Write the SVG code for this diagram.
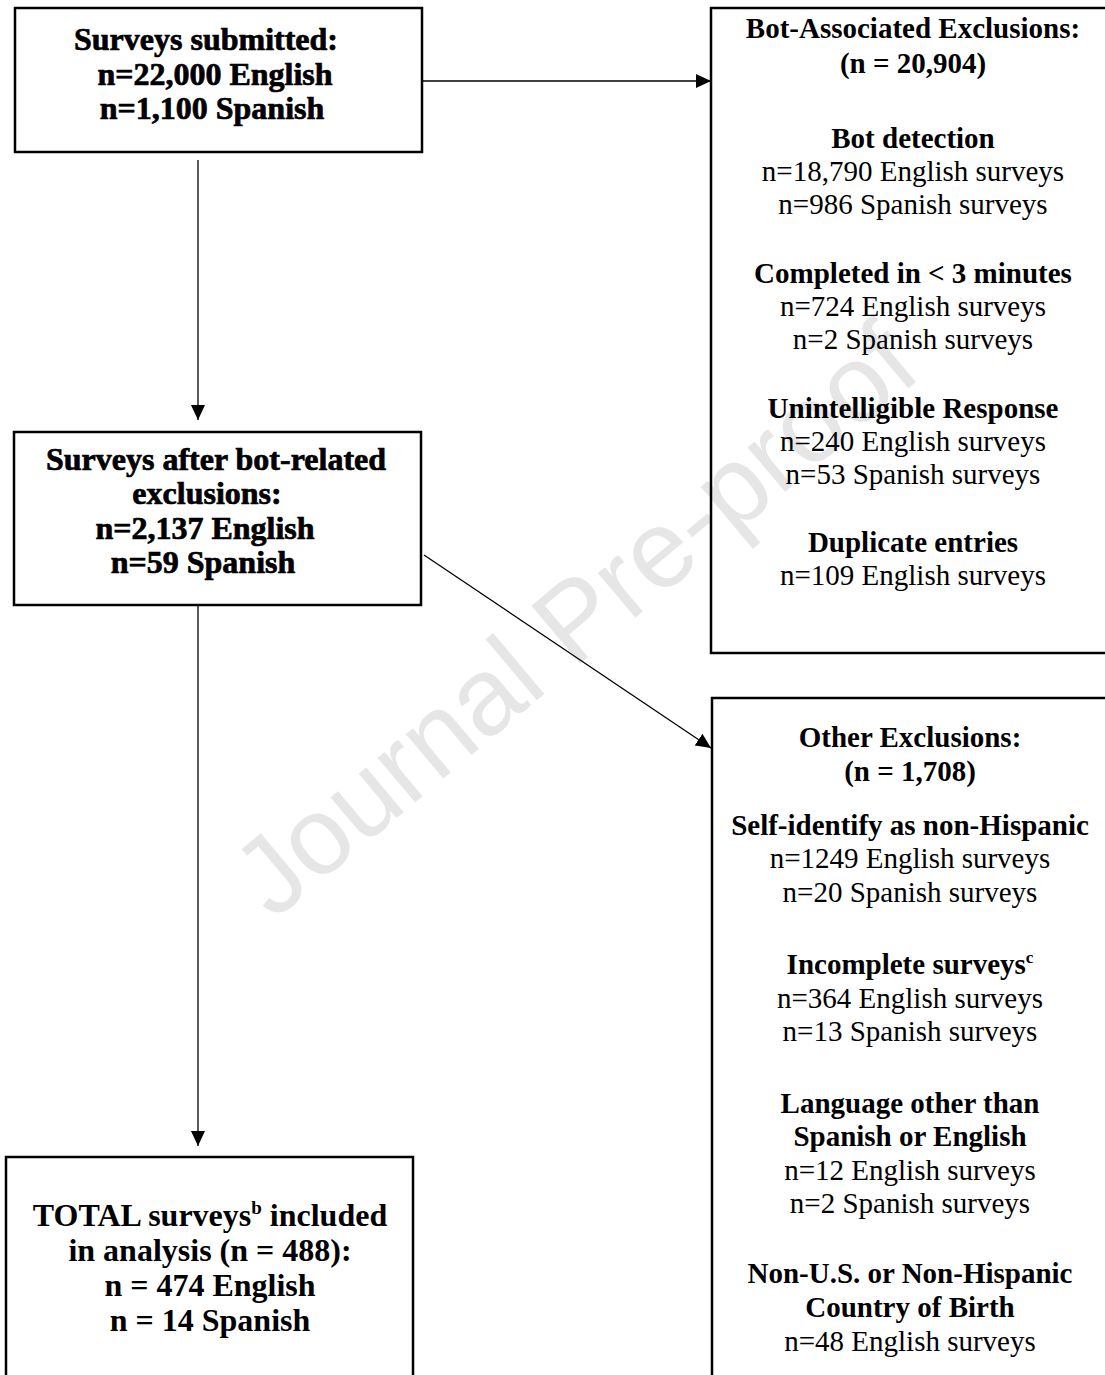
<svg xmlns="http://www.w3.org/2000/svg" width="1105" height="1375" viewBox="0 0 1105 1375">
<style>
.box{fill:none;stroke:#000;stroke-width:2.5}
.conn{stroke:#000;stroke-width:1.3;fill:none}
.t{font-family:"Liberation Serif","Times New Roman",serif;text-anchor:middle;fill:#000}
.big{font-size:32px;font-weight:bold}
.heavy{stroke:#000;stroke-width:0.7}
.h{font-size:29px;font-weight:bold}
.r{font-size:29px}
.wm{font-family:"Liberation Sans",Arial,sans-serif;font-size:110px;fill:#e6e6e6;text-anchor:middle}
</style>
<defs>
<marker id="ah" markerUnits="userSpaceOnUse" markerWidth="15" markerHeight="14" refX="15" refY="7" orient="auto">
<path d="M0,0 L15,7 L0,14 z" fill="#000"/>
</marker>
</defs>
<rect width="1105" height="1375" fill="#fff"/>
<text class="wm" x="599" y="648" transform="rotate(-40 599 648)">Journal Pre-proof</text>

<g id="connectors">
<line class="conn" x1="422" y1="81" x2="711" y2="81" marker-end="url(#ah)"/>
<line class="conn" x1="198" y1="160" x2="198" y2="420" marker-end="url(#ah)"/>
<line class="conn" x1="198" y1="605" x2="198" y2="1146" marker-end="url(#ah)"/>
<line class="conn" x1="424" y1="555" x2="711" y2="748" marker-end="url(#ah)"/>
</g>

<g id="node-submitted">
<rect class="box" x="15" y="8" width="407" height="144"/>
<text class="t big heavy" x="206" y="50">Surveys submitted:</text>
<text class="t big heavy" x="215" y="85">n=22,000 English</text>
<text class="t big heavy" x="212" y="119">n=1,100 Spanish</text>
</g>

<g id="node-bot-exclusions">
<rect class="box" x="711" y="8" width="420" height="645"/>
<text class="t h" x="913" y="38">Bot-Associated Exclusions:</text>
<text class="t h" x="913" y="73">(n = 20,904)</text>
<text class="t h" x="913" y="148">Bot detection</text>
<text class="t r" x="913" y="181">n=18,790 English surveys</text>
<text class="t r" x="913" y="214">n=986 Spanish surveys</text>
<text class="t h" x="913" y="283">Completed in &lt; 3 minutes</text>
<text class="t r" x="913" y="316">n=724 English surveys</text>
<text class="t r" x="913" y="349">n=2 Spanish surveys</text>
<text class="t h" x="913" y="418">Unintelligible Response</text>
<text class="t r" x="913" y="451">n=240 English surveys</text>
<text class="t r" x="913" y="484">n=53 Spanish surveys</text>
<text class="t h" x="913" y="552">Duplicate entries</text>
<text class="t r" x="913" y="585">n=109 English surveys</text>
</g>

<g id="node-after-bot">
<rect class="box" x="14" y="432" width="407" height="173"/>
<text class="t big heavy" x="216" y="470">Surveys after bot-related</text>
<text class="t big heavy" x="207" y="504">exclusions:</text>
<text class="t big heavy" x="205" y="539">n=2,137 English</text>
<text class="t big heavy" x="203" y="573">n=59 Spanish</text>
</g>

<g id="node-other-exclusions">
<rect class="box" x="712" y="698" width="420" height="700"/>
<text class="t h" x="910" y="747">Other Exclusions:</text>
<text class="t h" x="910" y="781">(n = 1,708)</text>
<text class="t h" x="910" y="835">Self-identify as non-Hispanic</text>
<text class="t r" x="910" y="868">n=1249 English surveys</text>
<text class="t r" x="910" y="902">n=20 Spanish surveys</text>
<text class="t h" x="910" y="974">Incomplete surveys<tspan font-size="17" dy="-11">c</tspan></text>
<text class="t r" x="910" y="1008">n=364 English surveys</text>
<text class="t r" x="910" y="1041">n=13 Spanish surveys</text>
<text class="t h" x="910" y="1113">Language other than</text>
<text class="t h" x="910" y="1146">Spanish or English</text>
<text class="t r" x="910" y="1180">n=12 English surveys</text>
<text class="t r" x="910" y="1213">n=2 Spanish surveys</text>
<text class="t h" x="910" y="1283">Non-U.S. or Non-Hispanic</text>
<text class="t h" x="910" y="1317">Country of Birth</text>
<text class="t r" x="910" y="1351">n=48 English surveys</text>
</g>

<g id="node-total">
<rect class="box" x="6" y="1157" width="407" height="240"/>
<text class="t big" x="210" y="1226">TOTAL surveys<tspan font-size="19" dy="-12">b</tspan><tspan dy="12"> included</tspan></text>
<text class="t big" x="210" y="1261">in analysis (n = 488):</text>
<text class="t big" x="210" y="1296">n = 474 English</text>
<text class="t big" x="210" y="1331">n = 14 Spanish</text>
</g>
</svg>
